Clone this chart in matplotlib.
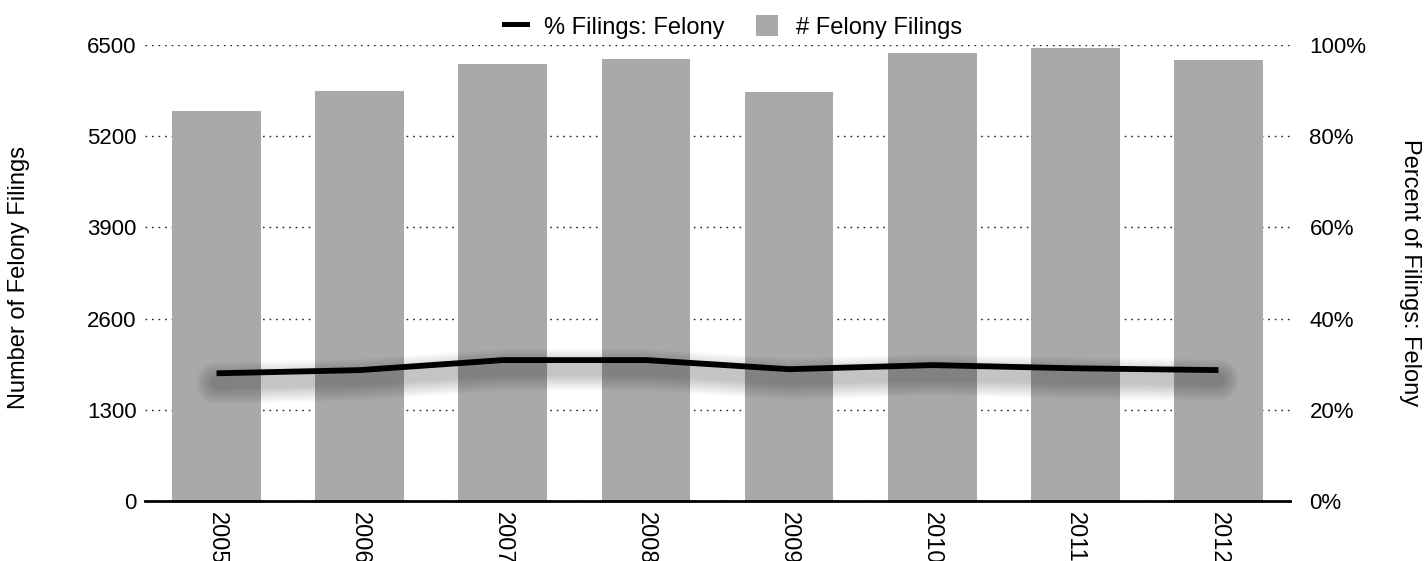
import matplotlib.pyplot as plt
import matplotlib.transforms as mtransforms
from matplotlib.lines import Line2D
from matplotlib.patches import Patch
import numpy as np

plt.rcParams["font.family"] = ["Liberation Sans", "DejaVu Sans"]

# data
years = ["2005", "2006", "2007", "2008", "2009", "2010", "2011", "2012"]
felony_filings = [5553, 5850, 6232, 6302, 5826, 6381, 6453, 6282]
pct_felony = [28.0, 28.7, 30.9, 30.9, 28.9, 29.8, 29.1, 28.7]
left_ticks = [0, 1300, 2600, 3900, 5200, 6500]
right_ticks = [0, 20, 40, 60, 80, 100]

bar_color = "#a9a9a9"
fs = 16
fs_big = 17

fig = plt.figure(figsize=(14.24, 5.61), dpi=100)
ax = fig.add_axes([145 / 1424, 60 / 561, 1145 / 1424, 456 / 561])
x = np.arange(len(years))

ax.bar(x, felony_filings, width=0.62, color=bar_color, zorder=2)
ax.set_xlim(-0.5, len(years) - 0.5)
ax.set_ylim(0, 6500)
ax.set_yticks(left_ticks)
ax.set_yticklabels([str(t) for t in left_ticks], fontsize=fs)
ax.yaxis.grid(True, linestyle=(0, (1.2, 3.5)), color="#222222", linewidth=1.0, zorder=0)
ax.set_axisbelow(True)
ax.tick_params(axis="y", length=0, pad=6)
ax.tick_params(axis="x", length=0, pad=8)
ax.set_xticks(x)
ax.set_xticklabels(years, rotation=-90, fontsize=fs_big, va="top", ha="center")
for s in ["top", "left", "right"]:
    ax.spines[s].set_visible(False)
ax.spines["bottom"].set_linewidth(2.0)
ax.spines["bottom"].set_zorder(5)
ax.set_ylabel("Number of Felony Filings", fontsize=fs_big)
ax.yaxis.set_label_coords(-(145 - 30) / 1145, 0.49)

ax2 = ax.twinx()
ax2.set_ylim(0, 100)
ax2.set_yticks(right_ticks)
ax2.set_yticklabels([f"{t}%" for t in right_ticks], fontsize=fs)
ax2.tick_params(axis="y", length=0, pad=14)
for s in ["top", "left", "right", "bottom"]:
    ax2.spines[s].set_visible(False)
ax2.set_ylabel("Percent of Filings: Felony", fontsize=fs_big, rotation=270, va="center")
ax2.yaxis.set_label_coords(1 + (1410 - 1290) / 1145, 0.5)

# soft drop shadow under the line
for w in np.linspace(30, 8, 12):
    tr = mtransforms.offset_copy(ax2.transData, fig=fig, x=0, y=-7, units="points")
    ax2.plot(x, pct_felony, color="black", linewidth=w, alpha=0.02,
             transform=tr, solid_capstyle="round", solid_joinstyle="round", zorder=3)
ax2.plot(x, pct_felony, color="black", linewidth=4.2, solid_capstyle="butt",
         solid_joinstyle="round", zorder=4)

handles = [Line2D([0], [0], color="black", linewidth=3.6),
           Patch(facecolor=bar_color, edgecolor="none")]
fig.legend(handles, ["% Filings: Felony", "# Felony Filings"], loc="center",
           bbox_to_anchor=(733 / 1424, 1 - 27 / 561), ncol=2, frameon=False,
           fontsize=fs_big, handlelength=0.95, handleheight=0.95,
           handletextpad=0.75, columnspacing=1.3)

fig.savefig("out.png", dpi=100)
